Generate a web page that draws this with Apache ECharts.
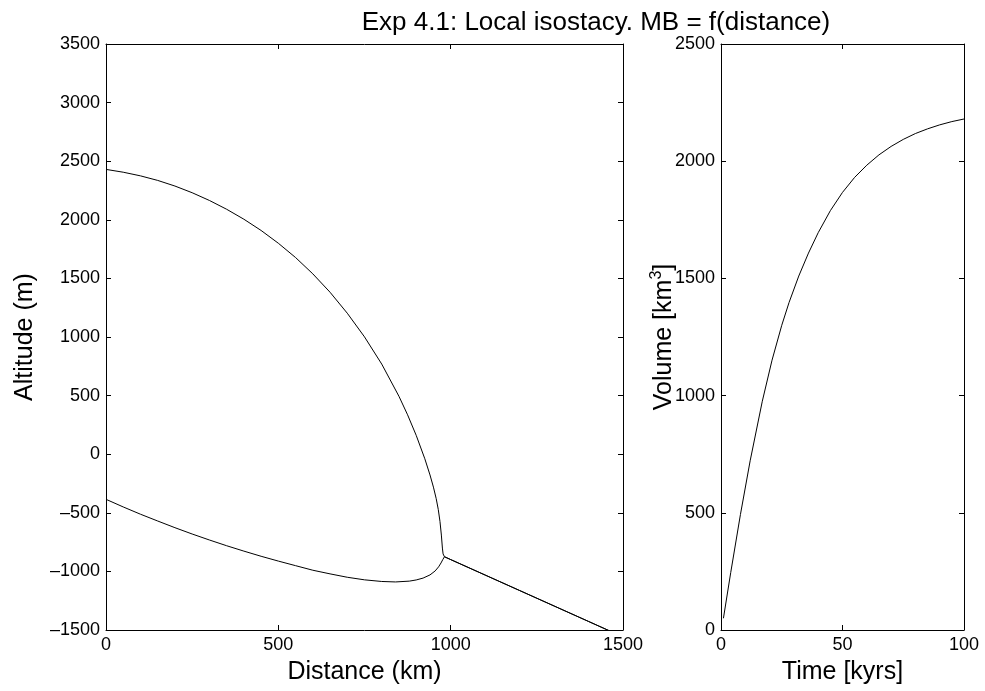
<!DOCTYPE html>
<html><head><meta charset="utf-8">
<script src="https://cdn.jsdelivr.net/npm/echarts/dist/echarts.min.js"></script>
<style>html,body{margin:0;padding:0;background:#fff}#c{width:985px;height:691px}</style>
</head><body><div id="c"></div>
<script>
// Left panel: ice surface and bed profile (km, m)
const surfDist = [0,50,100,150,200,250,300,350,400,450,500,550,600,650,700,750,800,850,875,900,925,940,950,958,964,969,973,976,978,980,982];
const surfAlt  = [2430,2406,2375,2336,2288,2231,2165,2090,2005,1909,1800,1678,1539,1382,1203,1001,769,494,336,161,-39,-177,-281,-379,-471,-574,-690,-801,-851,-868,-875];
const bedDist  = [0,50,100,150,200,250,300,350,400,450,500,550,600,650,700,750,800,840,880,900,920,940,955,965,972,977,982];
const bedAlt   = [-385,-450,-512,-570,-627,-681,-732,-781,-827,-871,-912,-951,-990,-1021,-1050,-1072,-1086,-1090,-1083,-1073,-1057,-1030,-996,-961,-928,-900,-875];
// ice-free sea floor beyond the margin (shared by both profiles)
const tailDist = [982,1000,1100,1200,1300,1400,1500];
const tailAlt  = [-875,-899,-1031,-1163,-1295,-1427,-1559];
// Right panel: volume through time
const timeKyr   = [1,4,8,12,17,21,25,28,32,36,40,45,50,55,60,65,70,75,80,85,90,95,100];
const volumeKm3 = [50,245,493,722,976,1151,1300,1397,1510,1608,1695,1789,1867,1931,1983,2027,2063,2093,2118,2138,2155,2169,2180];

const titleText = 'Exp 4.1: Local isostacy. MB = f(distance)';
const FONT = '"Liberation Sans", Arial, Helvetica, sans-serif';

function pairs(xs, ys){ return xs.map((x,i)=>[x, ys[i]]); }

function ax(o){
  return Object.assign({
    type:'value',
    axisLine:{show:true, onZero:false, lineStyle:{color:'#000', width:1}},
    axisTick:{show:true, inside:true, length:5, lineStyle:{color:'#000', width:1}},
    splitLine:{show:false},
    axisLabel:{color:'#000', fontSize:18, fontFamily:FONT, margin:6,
      formatter:v=>String(v).replace('-','\u2013')},
    nameTextStyle:{color:'#000', fontSize:25, fontFamily:FONT},
    nameLocation:'middle',
    nameMoveOverlap:false
  }, o);
}

const chart = echarts.init(document.getElementById('c'), null, {renderer:'canvas'});
chart.setOption({
  animation:false,
  backgroundColor:'#fff',
  title:{text:titleText, left:591, top:5, textAlign:'center',
    textStyle:{color:'#000', fontSize:26, fontWeight:'normal', fontFamily:FONT}},
  grid:[
    {left:106, top:44, width:517, height:586, containLabel:false, outerBoundsMode:'none'},
    {left:721, top:44, width:243, height:586, containLabel:false, outerBoundsMode:'none'}
  ],
  xAxis:[
    ax({gridIndex:0, min:0, max:1500, interval:500, name:'Distance (km)', nameGap:30}),
    ax({gridIndex:0, min:0, max:1500, interval:500, position:'top', axisLabel:{show:false}}),
    ax({gridIndex:1, min:0, max:100, interval:50, name:'Time [kyrs]', nameGap:30}),
    ax({gridIndex:1, min:0, max:100, interval:50, position:'top', axisLabel:{show:false}})
  ],
  yAxis:[
    ax({gridIndex:0, min:-1500, max:3500, interval:500, name:'Altitude (m)', nameGap:68}),
    ax({gridIndex:0, min:-1500, max:3500, interval:500, position:'right', axisLabel:{show:false}}),
    ax({gridIndex:1, min:0, max:2500, interval:500, name:'Volume [km{sup|3}]', nameGap:42,
      nameTextStyle:{color:'#000', fontSize:25, fontFamily:FONT, lineHeight:30,
        rich:{sup:{fontSize:16, fontFamily:FONT, color:'#000', verticalAlign:'top', lineHeight:16}}}}),
    ax({gridIndex:1, min:0, max:2500, interval:500, position:'right', axisLabel:{show:false}})
  ],
  series:[
    {type:'line', xAxisIndex:0, yAxisIndex:0, data:pairs(surfDist.concat(tailDist.slice(1)), surfAlt.concat(tailAlt.slice(1))),
      showSymbol:false, symbol:'none', clip:true, lineStyle:{color:'#000', width:1}},
    {type:'line', xAxisIndex:0, yAxisIndex:0, data:pairs(bedDist.concat(tailDist.slice(1)), bedAlt.concat(tailAlt.slice(1))),
      showSymbol:false, symbol:'none', clip:true, lineStyle:{color:'#000', width:1}},
    {type:'line', xAxisIndex:2, yAxisIndex:2, data:pairs(timeKyr, volumeKm3),
      showSymbol:false, symbol:'none', clip:true, lineStyle:{color:'#000', width:1}}
  ]
});
</script>
</body></html>
